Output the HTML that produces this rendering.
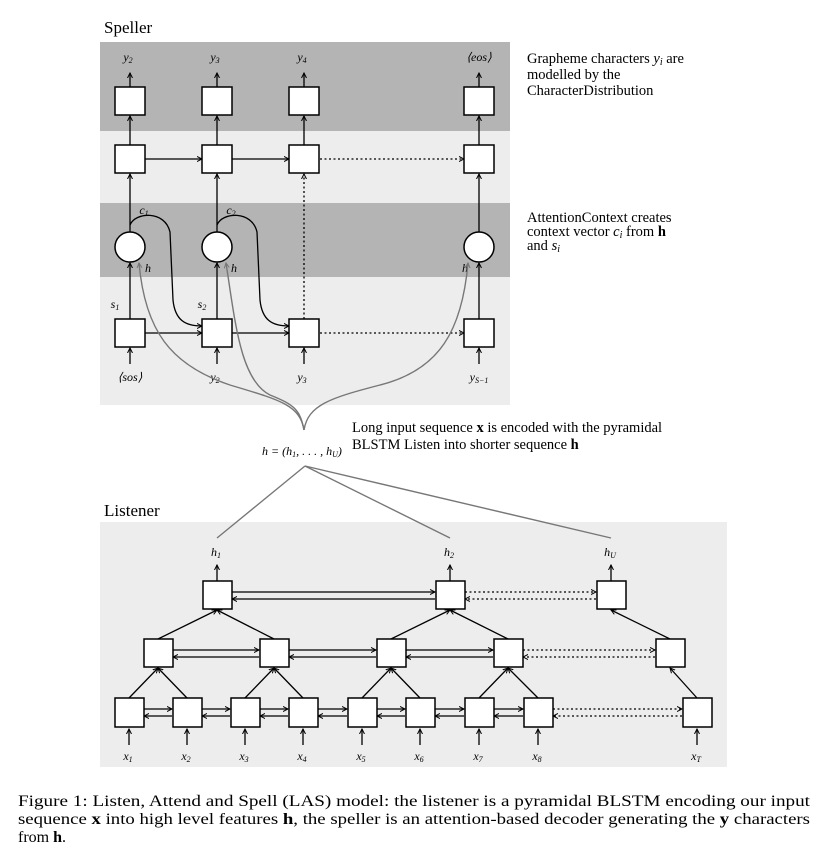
<!DOCTYPE html>
<html><head><meta charset="utf-8"><style>
html,body{margin:0;padding:0;background:#fff}
svg{display:block}
text{font-family:"Liberation Serif",serif;fill:#000}
.m{font-style:italic;font-size:12px}
.b{fill:#fff;stroke:#000;stroke-width:1.5}
.l{stroke:#000;stroke-width:1.3;fill:none}
.d{stroke:#000;stroke-width:1.3;fill:none;stroke-dasharray:2,2.5}
.g{stroke:#777;stroke-width:1.4;fill:none}
</style></head><body>
<svg width="836" height="852" viewBox="0 0 836 852" xmlns="http://www.w3.org/2000/svg">
<defs>
<marker id="a" markerWidth="6" markerHeight="6" refX="5" refY="3" orient="auto" markerUnits="userSpaceOnUse"><path d="M0,0.5 L5,3 L0,5.5" fill="none" stroke="#000" stroke-width="1"/></marker>
<marker id="ag" markerWidth="6" markerHeight="6" refX="5" refY="3" orient="auto" markerUnits="userSpaceOnUse"><path d="M0,0.5 L5,3 L0,5.5" fill="none" stroke="#777" stroke-width="1"/></marker>
</defs>
<!-- Speller -->
<text x="104" y="33" font-size="17">Speller</text>
<rect x="100" y="42" width="410" height="89" fill="#b4b4b4"/>
<rect x="100" y="131" width="410" height="72" fill="#ededed"/>
<rect x="100" y="203" width="410" height="74" fill="#b4b4b4"/>
<rect x="100" y="277" width="410" height="128" fill="#ededed"/>
<g class="m" text-anchor="middle">
<text x="128" y="61">y<tspan font-size="8" dy="2">2</tspan></text><text x="215" y="61">y<tspan font-size="8" dy="2">3</tspan></text><text x="302" y="61">y<tspan font-size="8" dy="2">4</tspan></text><text x="479" y="61">⟨eos⟩</text>
<text x="130" y="381">⟨sos⟩</text><text x="215" y="381">y<tspan font-size="8" dy="2">2</tspan></text><text x="302" y="381">y<tspan font-size="8" dy="2">3</tspan></text><text x="479" y="381">y<tspan font-size="8" dy="2">S−1</tspan></text>
<text x="144" y="214">c<tspan font-size="8" dy="2">1</tspan></text><text x="231" y="214">c<tspan font-size="8" dy="2">2</tspan></text>
<text x="148" y="272">h</text><text x="234" y="272">h</text><text x="465" y="272">h</text>
<text x="115" y="308">s<tspan font-size="8" dy="2">1</tspan></text><text x="202" y="308">s<tspan font-size="8" dy="2">2</tspan></text>
</g>
<g class="l" marker-end="url(#a)">
<line x1="130" y1="87" x2="130" y2="73"/><line x1="217" y1="87" x2="217" y2="73"/><line x1="304" y1="87" x2="304" y2="73"/><line x1="479" y1="87" x2="479" y2="73"/>
<line x1="130" y1="145" x2="130" y2="116"/><line x1="217" y1="145" x2="217" y2="116"/><line x1="304" y1="145" x2="304" y2="116"/><line x1="479" y1="145" x2="479" y2="116"/>
<line x1="130" y1="232" x2="130" y2="174"/><line x1="217" y1="232" x2="217" y2="174"/><line x1="479" y1="232" x2="479" y2="174"/>
<line x1="130" y1="319" x2="130" y2="263"/><line x1="217" y1="319" x2="217" y2="263"/><line x1="479" y1="319" x2="479" y2="263"/>
<line x1="130" y1="364" x2="130" y2="348"/><line x1="217" y1="364" x2="217" y2="348"/><line x1="304" y1="364" x2="304" y2="348"/><line x1="479" y1="364" x2="479" y2="348"/>
<line x1="145" y1="159" x2="202" y2="159"/><line x1="232" y1="159" x2="289" y2="159"/>
<line x1="145" y1="333" x2="202" y2="333"/><line x1="232" y1="333" x2="289" y2="333"/>
<path d="M130,225 C135,212 165,210 170,232 L173,300 C175,320 185,326 202,326"/>
<path d="M217,225 C222,212 252,210 257,232 L260,300 C262,320 272,326 289,326"/>
</g>
<g class="d" marker-end="url(#a)">
<line x1="320" y1="159" x2="464" y2="159"/><line x1="320" y1="333" x2="464" y2="333"/><line x1="304" y1="319" x2="304" y2="174"/>
</g>
<g class="g" marker-end="url(#ag)">
<path d="M304,430 C300,405 280,400 230,385 C170,365 145,330 139,263"/>
<path d="M304,430 C300,410 295,405 270,395 C240,380 235,320 226,263"/>
<path d="M304,430 C308,405 330,398 380,385 C440,370 462,330 468,263"/>
</g>
<g class="b">
<rect x="115" y="87" width="30" height="28"/><rect x="202" y="87" width="30" height="28"/><rect x="289" y="87" width="30" height="28"/><rect x="464" y="87" width="30" height="28"/>
<rect x="115" y="145" width="30" height="28"/><rect x="202" y="145" width="30" height="28"/><rect x="289" y="145" width="30" height="28"/><rect x="464" y="145" width="30" height="28"/>
<circle cx="130" cy="247" r="15"/><circle cx="217" cy="247" r="15"/><circle cx="479" cy="247" r="15"/>
<rect x="115" y="319" width="30" height="28"/><rect x="202" y="319" width="30" height="28"/><rect x="289" y="319" width="30" height="28"/><rect x="464" y="319" width="30" height="28"/>
</g>
<g font-size="14.5">
<text x="527" y="63">Grapheme characters <tspan font-style="italic">y</tspan><tspan font-size="10" dy="2" font-style="italic">i</tspan><tspan dy="-2"> are</tspan></text>
<text x="527" y="79">modelled by the</text>
<text x="527" y="95">CharacterDistribution</text>
<text x="527" y="222">AttentionContext creates</text>
<text x="527" y="236">context vector <tspan font-style="italic">c</tspan><tspan font-size="10" dy="2" font-style="italic">i</tspan><tspan dy="-2"> from </tspan><tspan font-weight="bold">h</tspan></text>
<text x="527" y="250">and <tspan font-style="italic">s</tspan><tspan font-size="10" dy="2" font-style="italic">i</tspan></text>
<text x="352" y="432">Long input sequence <tspan font-weight="bold">x</tspan> is encoded with the pyramidal</text>
<text x="352" y="449">BLSTM Listen into shorter sequence <tspan font-weight="bold">h</tspan></text>
</g>
<text x="262" y="455" class="m" font-size="11">h = (h<tspan font-size="8" dy="2">1</tspan><tspan dy="-2">, . . . , h</tspan><tspan font-size="8" dy="2">U</tspan><tspan dy="-2">)</tspan></text>
<!-- Listener -->
<text x="104" y="516" font-size="17">Listener</text>
<rect x="100" y="522" width="627" height="245" fill="#ededed"/>
<g class="g">
<line x1="305" y1="466" x2="217" y2="538"/><line x1="305" y1="466" x2="450" y2="538"/><line x1="305" y1="466" x2="611" y2="538"/>
</g>
<g class="m" text-anchor="middle">
<text x="216" y="556">h<tspan font-size="8" dy="2">1</tspan></text><text x="449" y="556">h<tspan font-size="8" dy="2">2</tspan></text><text x="610" y="556">h<tspan font-size="8" dy="2">U</tspan></text>
<text x="128" y="760">x<tspan font-size="8" dy="2">1</tspan></text><text x="186" y="760">x<tspan font-size="8" dy="2">2</tspan></text><text x="244" y="760">x<tspan font-size="8" dy="2">3</tspan></text><text x="302" y="760">x<tspan font-size="8" dy="2">4</tspan></text><text x="361" y="760">x<tspan font-size="8" dy="2">5</tspan></text><text x="419" y="760">x<tspan font-size="8" dy="2">6</tspan></text><text x="478" y="760">x<tspan font-size="8" dy="2">7</tspan></text><text x="537" y="760">x<tspan font-size="8" dy="2">8</tspan></text><text x="696" y="760">x<tspan font-size="8" dy="2">T</tspan></text>
</g>
<g class="l" marker-end="url(#a)">
<line x1="217" y1="581" x2="217" y2="565"/><line x1="450" y1="581" x2="450" y2="565"/><line x1="611" y1="581" x2="611" y2="565"/>
<line x1="129" y1="745" x2="129" y2="729"/><line x1="187" y1="745" x2="187" y2="729"/><line x1="245" y1="745" x2="245" y2="729"/><line x1="303" y1="745" x2="303" y2="729"/><line x1="362" y1="745" x2="362" y2="729"/><line x1="420" y1="745" x2="420" y2="729"/><line x1="479" y1="745" x2="479" y2="729"/><line x1="538" y1="745" x2="538" y2="729"/><line x1="697" y1="745" x2="697" y2="729"/>
<line x1="129" y1="698" x2="158" y2="668"/><line x1="187" y1="698" x2="158" y2="668"/>
<line x1="245" y1="698" x2="274" y2="668"/><line x1="303" y1="698" x2="274" y2="668"/>
<line x1="362" y1="698" x2="391" y2="668"/><line x1="420" y1="698" x2="391" y2="668"/>
<line x1="479" y1="698" x2="508" y2="668"/><line x1="538" y1="698" x2="508" y2="668"/>
<line x1="697" y1="698" x2="670" y2="668"/>
<line x1="158" y1="639" x2="217" y2="610"/><line x1="274" y1="639" x2="217" y2="610"/>
<line x1="391" y1="639" x2="450" y2="610"/><line x1="508" y1="639" x2="450" y2="610"/>
<line x1="670" y1="639" x2="611" y2="610"/>
<line x1="144" y1="709" x2="172" y2="709"/><line x1="172" y1="716" x2="144" y2="716"/>
<line x1="202" y1="709" x2="230" y2="709"/><line x1="230" y1="716" x2="202" y2="716"/>
<line x1="260" y1="709" x2="288" y2="709"/><line x1="288" y1="716" x2="260" y2="716"/>
<line x1="318" y1="709" x2="347" y2="709"/><line x1="347" y1="716" x2="318" y2="716"/>
<line x1="377" y1="709" x2="405" y2="709"/><line x1="405" y1="716" x2="377" y2="716"/>
<line x1="435" y1="709" x2="464" y2="709"/><line x1="464" y1="716" x2="435" y2="716"/>
<line x1="494" y1="709" x2="523" y2="709"/><line x1="523" y1="716" x2="494" y2="716"/>
<line x1="173" y1="650" x2="259" y2="650"/><line x1="259" y1="657" x2="173" y2="657"/>
<line x1="289" y1="650" x2="376" y2="650"/><line x1="376" y1="657" x2="289" y2="657"/>
<line x1="406" y1="650" x2="493" y2="650"/><line x1="493" y1="657" x2="406" y2="657"/>
<line x1="232" y1="592" x2="435" y2="592"/><line x1="435" y1="599" x2="232" y2="599"/>
</g>
<g class="d" marker-end="url(#a)">
<line x1="553" y1="709" x2="682" y2="709"/><line x1="682" y1="716" x2="553" y2="716"/>
<line x1="523" y1="650" x2="655" y2="650"/><line x1="655" y1="657" x2="523" y2="657"/>
<line x1="465" y1="592" x2="596" y2="592"/><line x1="596" y1="599" x2="465" y2="599"/>
</g>
<g class="b">
<rect x="115" y="698" width="29" height="29"/><rect x="173" y="698" width="29" height="29"/><rect x="231" y="698" width="29" height="29"/><rect x="289" y="698" width="29" height="29"/><rect x="348" y="698" width="29" height="29"/><rect x="406" y="698" width="29" height="29"/><rect x="465" y="698" width="29" height="29"/><rect x="524" y="698" width="29" height="29"/><rect x="683" y="698" width="29" height="29"/>
<rect x="144" y="639" width="29" height="28"/><rect x="260" y="639" width="29" height="28"/><rect x="377" y="639" width="29" height="28"/><rect x="494" y="639" width="29" height="28"/><rect x="656" y="639" width="29" height="28"/>
<rect x="203" y="581" width="29" height="28"/><rect x="436" y="581" width="29" height="28"/><rect x="597" y="581" width="29" height="28"/>
</g>
<g font-size="16">
<text x="18" y="806" textLength="792" lengthAdjust="spacingAndGlyphs">Figure 1:  Listen, Attend and Spell (LAS) model:  the listener is a pyramidal BLSTM encoding our input</text>
<text x="18" y="824" textLength="792" lengthAdjust="spacingAndGlyphs">sequence <tspan font-weight="bold">x</tspan> into high level features <tspan font-weight="bold">h</tspan>, the speller is an attention-based decoder generating the <tspan font-weight="bold">y</tspan> characters</text>
<text x="18" y="842">from <tspan font-weight="bold">h</tspan>.</text>
</g>
</svg>
</body></html>
